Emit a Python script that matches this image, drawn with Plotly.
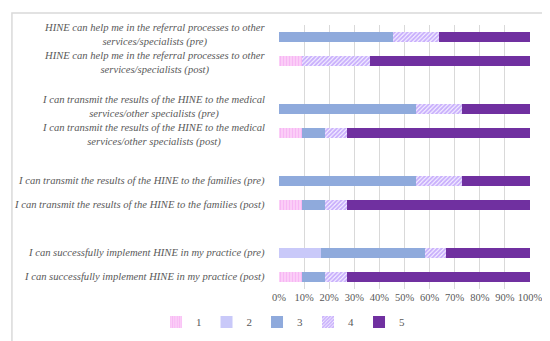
import plotly.graph_objects as go

categories = [
    "HINE can help me in the referral processes to other<br>services/specialists (pre)",
    "HINE can help me in the referral processes to other<br>services/specialists (post)",
    "I can transmit the results of the HINE to the medical<br>services/other specialists (pre)",
    "I can transmit the results of the HINE to the medical<br>services/other specialists (post)",
    "I can transmit the results of the HINE to the families (pre)",
    "I can transmit the results of the HINE to the families (post)",
    "I can successfully implement HINE in my practice (pre)",
    "I can successfully implement HINE in my practice (post)",
]
spacers = [" ", "  ", "   "]
category_order = [categories[0], categories[1], spacers[0],
                  categories[2], categories[3], spacers[1],
                  categories[4], categories[5], spacers[2],
                  categories[6], categories[7]]

s1 = [0, 9.09, 0, 9.09, 0, 9.09, 0, 9.09]
s2 = [0, 0, 0, 0, 0, 0, 16.67, 0]
s3 = [45.45, 0, 54.55, 9.09, 54.55, 9.09, 41.67, 9.09]
s4 = [18.18, 27.27, 18.18, 9.09, 18.18, 9.09, 8.33, 9.09]
s5 = [36.36, 63.64, 27.27, 72.73, 27.27, 72.73, 33.33, 72.73]
series_names = ["1", "2", "3", "4", "5"]
x_ticks = [0, 10, 20, 30, 40, 50, 60, 70, 80, 90, 100]
x_tick_labels = ["0%", "10%", "20%", "30%", "40%", "50%", "60%", "70%", "80%", "90%", "100%"]

styles = [
    dict(color="#FBCDF7", pattern=dict(shape="|", fgcolor="#F39CEF", size=3, solidity=0.3, fillmode="overlay")),
    dict(color="#C9C9F9"),
    dict(color="#8FAADC"),
    dict(color="#FFFFFF", pattern=dict(shape="/", fgcolor="#9361FA", size=3, solidity=0.7, fillmode="overlay")),
    dict(color="#7030A0"),
]

fig = go.Figure()
for name, vals, st in zip(series_names, [s1, s2, s3, s4, s5], styles):
    marker = dict(color=st["color"], line=dict(width=0))
    if "pattern" in st:
        marker["pattern"] = st["pattern"]
    fig.add_trace(go.Bar(y=categories, x=vals, name=name, orientation="h",
                         marker=marker))

label_font = dict(family="Liberation Serif", size=10.6, color="#595959", style="italic")
annotations = []
for c in categories:
    two_line = "<br>" in c
    shift = 0
    if two_line:
        shift = 2 if "(pre)" in c else -2
    annotations.append(dict(x=0, xref="paper", y=c, yref="y", text=c,
                            xanchor="right", yanchor="middle", align="center",
                            xshift=-13, yshift=shift, borderpad=0,
                            showarrow=False, font=label_font))

fig.update_layout(
    barmode="stack",
    bargap=0.6,
    width=550, height=341,
    margin=dict(l=271, r=28, t=17, b=58),
    plot_bgcolor="white", paper_bgcolor="white",
    annotations=annotations,
    legend=dict(orientation="h", x=0.016, xanchor="center", y=-0.125, yanchor="middle",
                font=dict(family="Liberation Serif", size=11, color="#595959"),
                itemwidth=30, traceorder="normal"),
    shapes=[dict(type="rect", xref="paper", yref="paper", x0=-1.064, x1=1.096,
                 y0=-0.203, y1=1.045, line=dict(color="#D9D9D9", width=1.5))],
)
fig.update_xaxes(range=[0, 100], tickvals=x_ticks, ticktext=x_tick_labels,
                 showgrid=True, gridcolor="#D9D9D9", gridwidth=1, zeroline=False,
                 showline=False, ticks="",
                 tickfont=dict(family="Liberation Serif", size=10.5, color="#595959"))
fig.update_yaxes(type="category", categoryorder="array", categoryarray=category_order,
                 range=[10.5, -0.5], showticklabels=False, showgrid=False, zeroline=False)

fig.write_html("out.html")
